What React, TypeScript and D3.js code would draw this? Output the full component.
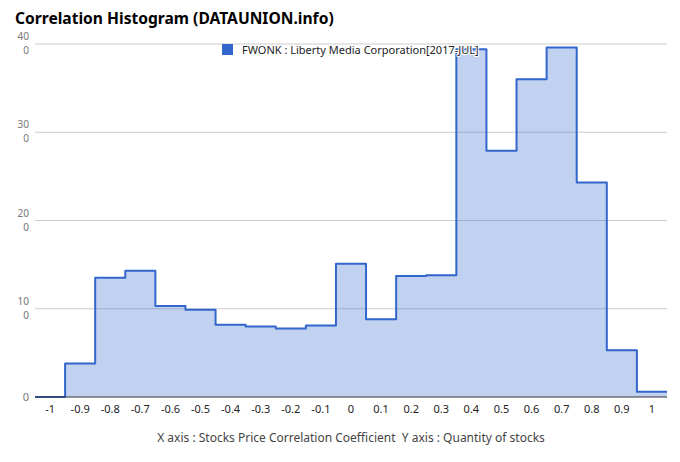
import React from "react";
import * as d3 from "d3";

const binCenters = [-1, -0.9, -0.8, -0.7, -0.6, -0.5, -0.4, -0.3, -0.2, -0.1, 0, 0.1, 0.2, 0.3, 0.4, 0.5, 0.6, 0.7, 0.8, 0.9, 1];
const counts = [0, 38, 135, 143, 103, 99, 82, 80, 77.5, 81, 151, 88, 137, 138, 394, 279, 360, 396, 243, 53, 6];
const xTickLabels = ["-1", "-0.9", "-0.8", "-0.7", "-0.6", "-0.5", "-0.4", "-0.3", "-0.2", "-0.1", "0", "0.1", "0.2", "0.3", "0.4", "0.5", "0.6", "0.7", "0.8", "0.9", "1"];
const yTicks = [0, 100, 200, 300, 400];

const W = 680, H = 462;
const FONT = "'Noto Sans', 'DejaVu Sans', sans-serif";

export default function App() {
  const x = d3.scaleLinear().domain([-1.05, 1.05]).range([35, 667]);
  const y = d3.scaleLinear().domain([0, 400]).range([397, 44]);
  const half = 0.05;
  const pts: [number, number][] = binCenters.map((c, i) => [c - half, counts[i]]);
  pts.push([binCenters[binCenters.length - 1] + half, counts[counts.length - 1]]);

  const line = d3.line<[number, number]>().x(d => x(d[0])).y(d => y(d[1])).curve(d3.curveStepAfter);
  const area = d3.area<[number, number]>().x(d => x(d[0])).y0(y(0)).y1(d => y(d[1])).curve(d3.curveStepAfter);

  return (
    <svg width={W} height={H} style={{ position: "absolute", left: 0, top: 0, background: "#fff" }} fontFamily={FONT}>
      <rect width={W} height={H} fill="#fff" />
      <text x={15} y={24} fontSize={15.6} fontWeight="bold" fill="#000">Correlation Histogram (DATAUNION.info)</text>
      {yTicks.filter(t => t > 0).map(t => (
        <line key={t} x1={35} x2={667} y1={y(t)} y2={y(t)} stroke="#cccccc" strokeWidth={1} />
      ))}
      {yTicks.map(t => {
        const s = String(t);
        if (s.length <= 2) {
          return <text key={t} x={29} y={y(t) + 4} fontSize={11} fill="#777" textAnchor="end">{s}</text>;
        }
        return (
          <g key={t}>
            <text x={29} y={y(t) - 4} fontSize={10} fill="#777" textAnchor="end">{s.slice(0, 2)}</text>
            <text x={29} y={y(t) + 10} fontSize={10} fill="#777" textAnchor="end">{s.slice(2)}</text>
          </g>
        );
      })}
      <path d={area(pts) || ""} fill="#3366cc" fillOpacity={0.3} />
      <path d={line(pts) || ""} fill="none" stroke="#3366cc" strokeWidth={2} strokeLinejoin="round" />
      <line x1={35} x2={667} y1={y(0)} y2={y(0)} stroke="#333" strokeWidth={1} />
      {binCenters.map((c, i) => (
        <text key={c} x={x(c)} y={413} fontSize={11} fill="#222" textAnchor="middle">{xTickLabels[i]}</text>
      ))}
      <rect x={222} y={44} width={11} height={11} fill="#3366cc" />
      <text x={242} y={54} fontSize={11} fill="#222" stroke="#fff" strokeWidth={2} paintOrder="stroke" strokeLinejoin="round">FWONK : Liberty Media Corporation[2017-JUL]</text>
      <text x={351} y={442} fontSize={12} fill="#444" textAnchor="middle" style={{ whiteSpace: "pre" }}>{"X axis : Stocks Price Correlation Coefficient  Y axis : Quantity of stocks"}</text>
    </svg>
  );
}
